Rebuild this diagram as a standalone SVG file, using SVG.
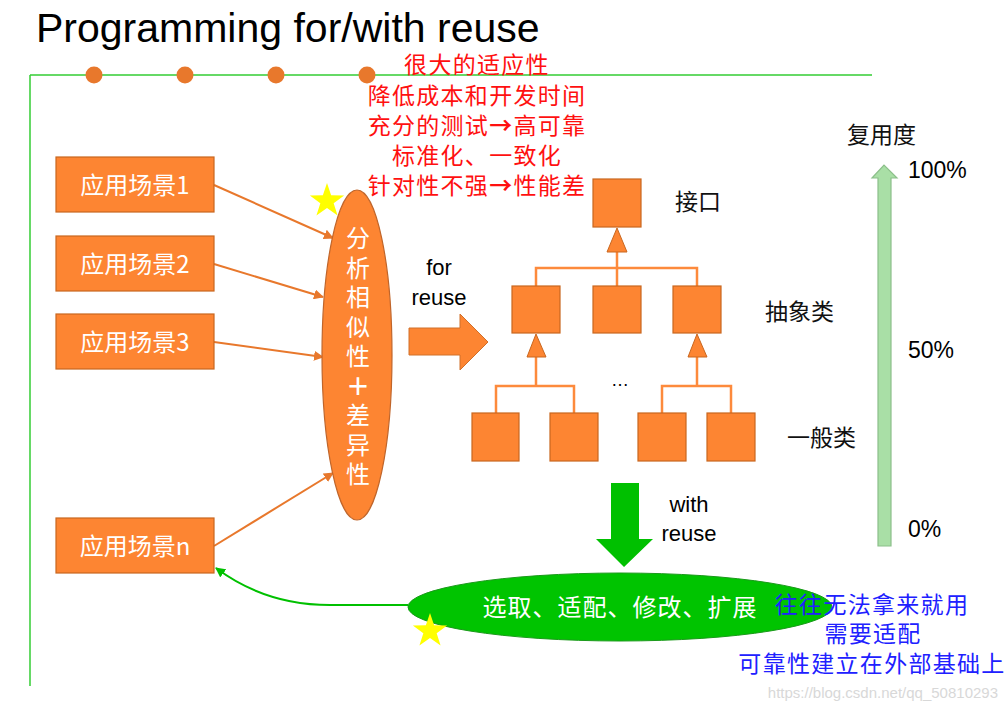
<svg xmlns="http://www.w3.org/2000/svg" width="1008" height="711" viewBox="0 0 1008 711">
<style>
.lat{font-family:"Liberation Sans",Arial,sans-serif}
.cjk{font-family:"Noto Sans CJK SC","Noto Sans",sans-serif}
.box{fill:#fd8532;stroke:#c9671f;stroke-width:1.2}
.sq{fill:#fd8532;stroke:#c9671f;stroke-width:1.2}
.tree{fill:none;stroke:#fd8a3c;stroke-width:2.5}
.tri{fill:#fd8532;stroke:#c9671f;stroke-width:1}
.wt{fill:#fff;font-size:24px}
.red{fill:#ff1010;font-size:23px;letter-spacing:1.3px}
.blue{fill:#2020ff;font-size:23px;letter-spacing:1.3px}
.blk{fill:#111;font-size:23px}
.conn{fill:none;stroke:#e8782c;stroke-width:2}
.arr{font-weight:bold}
</style>
<defs>
<marker id="ao" viewBox="0 0 10 10" refX="9" refY="5" markerWidth="5" markerHeight="5" orient="auto"><path d="M0,0 L10,5 L0,10 z" fill="#e8782c"/></marker>
<marker id="ag" viewBox="0 0 10 10" refX="9" refY="5" markerWidth="5" markerHeight="5" orient="auto"><path d="M0,0 L10,5 L0,10 z" fill="#00c000"/></marker>
<polygon id="star" points="0,-18 4.11,-5.66 17.12,-5.56 6.66,2.16 10.58,14.56 0,7 -10.58,14.56 -6.66,2.16 -17.12,-5.56 -4.11,-5.66" fill="#ffff00"/>
</defs>
<rect width="1008" height="711" fill="#fff"/>

<g id="title">
<text x="36" y="42" class="lat" font-size="41" fill="#000">Programming for/with reuse</text>
<line x1="30" y1="75" x2="872" y2="75" stroke="#33cc33" stroke-width="1.5"/>
<line x1="30" y1="75" x2="30" y2="686" stroke="#33cc33" stroke-width="1.5"/>
<circle cx="94" cy="75" r="8.5" fill="#e8782c"/>
<circle cx="185" cy="75" r="8.5" fill="#e8782c"/>
<circle cx="276" cy="75" r="8.5" fill="#e8782c"/>
<circle cx="367" cy="75" r="8.5" fill="#e8782c"/>
</g>

<g id="red-notes">
<text class="cjk red" text-anchor="middle" x="477" y="73">很大的适应性<tspan x="477" dy="31">降低成本和开发时间</tspan><tspan x="477" dy="30">充分的测试<tspan class="arr">→</tspan>高可靠</tspan><tspan x="477" dy="30">标准化、一致化</tspan><tspan x="477" dy="30">针对性不强<tspan class="arr">→</tspan>性能差</tspan></text>
</g>

<g id="connectors">
<line class="conn" x1="214" y1="185" x2="333" y2="238" marker-end="url(#ao)"/>
<line class="conn" x1="214" y1="264" x2="323" y2="297" marker-end="url(#ao)"/>
<line class="conn" x1="214" y1="342" x2="323" y2="357" marker-end="url(#ao)"/>
<line class="conn" x1="214" y1="546" x2="333" y2="473" marker-end="url(#ao)"/>
<path d="M408,605 L330,605 C285,605 248,592 216,568" fill="none" stroke="#00c000" stroke-width="2" marker-end="url(#ag)"/>
</g>

<g id="scene1"><rect class="box" x="56" y="157" width="158" height="55"/><text class="cjk wt" x="135" y="194" text-anchor="middle">应用场景1</text></g>
<g id="scene2"><rect class="box" x="56" y="236" width="158" height="55"/><text class="cjk wt" x="135" y="273" text-anchor="middle">应用场景2</text></g>
<g id="scene3"><rect class="box" x="56" y="314" width="158" height="55"/><text class="cjk wt" x="135" y="351" text-anchor="middle">应用场景3</text></g>
<g id="scenen"><rect class="box" x="56" y="518" width="158" height="55"/><text class="cjk wt" x="135" y="555" text-anchor="middle">应用场景n</text></g>

<g id="analysis">
<ellipse cx="357" cy="355" rx="35" ry="165" fill="#fd8532" stroke="#c0652a" stroke-width="1.2"/>
<text x="358" y="226" class="cjk wt" writing-mode="vertical-rl" text-orientation="upright" letter-spacing="5.5">分析相似性<tspan font-weight="bold">＋</tspan>差异性</text>
</g>
<use href="#star" x="327" y="201"/>

<g id="for-reuse">
<text x="439" y="275" class="lat" font-size="22" text-anchor="middle" fill="#000">for</text>
<text x="439" y="305" class="lat" font-size="22" text-anchor="middle" fill="#000">reuse</text>
<polygon points="409,328 460,328 460,314 488,342 460,370 460,355 409,355" fill="#fd8532" stroke="#d0702a" stroke-width="1"/>
</g>

<g id="tree">
<path class="tree" d="M617,252 V268 M536,286 V268 H697 V286 M617,268 V286"/>
<path class="tree" d="M536,357 V386 M496,413 V386 H574 V413"/>
<path class="tree" d="M697,357 V386 M662,413 V386 H731 V413"/>
<polygon class="tri" points="617,228 607,252 627,252"/>
<polygon class="tri" points="536,334 527,357 546,357"/>
<polygon class="tri" points="697,334 688,357 707,357"/>
<rect class="sq" x="593" y="179" width="48" height="48"/>
<rect class="sq" x="512" y="286" width="48" height="47"/>
<rect class="sq" x="593" y="286" width="48" height="47"/>
<rect class="sq" x="673" y="286" width="48" height="47"/>
<rect class="sq" x="472" y="413" width="47" height="48"/>
<rect class="sq" x="550" y="413" width="48" height="48"/>
<rect class="sq" x="638" y="413" width="48" height="48"/>
<rect class="sq" x="707" y="413" width="48" height="48"/>
<text x="620" y="386" class="lat" font-size="18" text-anchor="middle" fill="#000">…</text>
</g>

<g id="tree-labels" class="cjk blk">
<text x="675" y="210">接口</text>
<text x="765" y="320">抽象类</text>
<text x="787" y="446">一般类</text>
</g>

<g id="with-reuse">
<polygon points="611,483 639,483 639,539 653,539 624,567 596,539 611,539" fill="#00c000"/>
<text x="689" y="512" class="lat" font-size="22" text-anchor="middle" fill="#000">with</text>
<text x="689" y="541" class="lat" font-size="22" text-anchor="middle" fill="#000">reuse</text>
</g>

<g id="select">
<ellipse cx="620" cy="607" rx="212" ry="34" fill="#00c400" stroke="#1a9a1a" stroke-width="1"/>
<text x="620" y="616" class="cjk wt" text-anchor="middle" letter-spacing="1">选取、适配、修改、扩展</text>
</g>
<use href="#star" x="430" y="631"/>

<g id="blue-notes">
<text class="cjk blue" text-anchor="middle" x="872" y="613">往往无法拿来就用<tspan x="873" dy="29">需要适配</tspan><tspan x="872" dy="30">可靠性建立在外部基础上</tspan></text>
</g>

<g id="reuse-scale">
<polygon points="878,546 891,546 891,178 897,178 884,165 872,178 878,178" fill="#a9dfa6" stroke="#8cbf8a" stroke-width="1.2"/>
<text x="847" y="143" class="cjk blk">复用度</text>
<text x="908" y="178" class="lat" font-size="23" fill="#000">100%</text>
<text x="908" y="358" class="lat" font-size="23" fill="#000">50%</text>
<text x="908" y="537" class="lat" font-size="23" fill="#000">0%</text>
</g>

<text x="998" y="698" class="lat" font-size="15" text-anchor="end" fill="#d8d8d8">https://blog.csdn.net/qq_50810293</text>
</svg>
